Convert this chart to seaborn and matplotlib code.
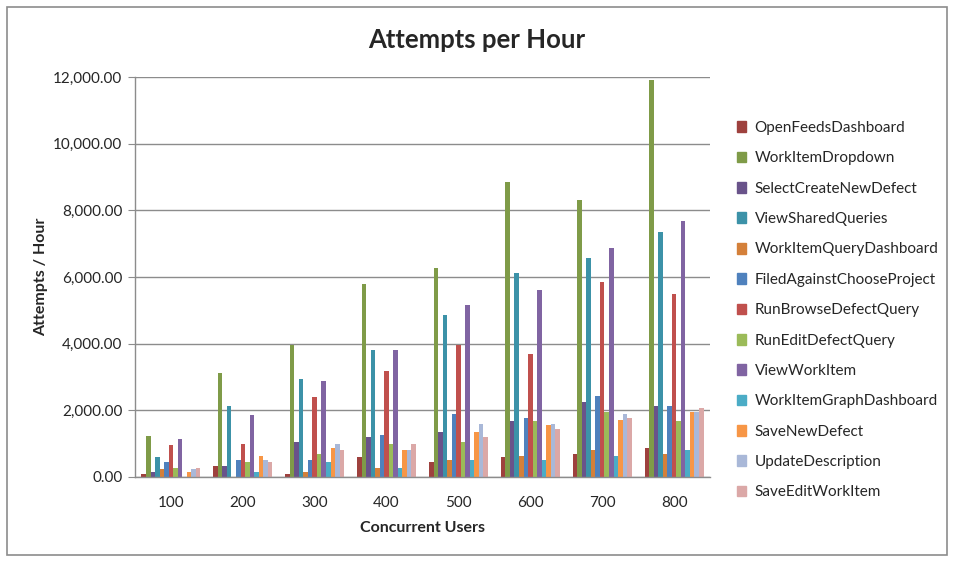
import matplotlib
matplotlib.use("Agg")
import matplotlib.pyplot as plt
import matplotlib.patches as mpatches
from matplotlib.ticker import FuncFormatter, MultipleLocator
import seaborn as sns
import pandas as pd

categories = ["100", "200", "300", "400", "500", "600", "700", "800"]
series_names = [
    "OpenFeedsDashboard", "WorkItemDropdown", "SelectCreateNewDefect",
    "ViewSharedQueries", "WorkItemQueryDashboard", "FiledAgainstChooseProject",
    "RunBrowseDefectQuery", "RunEditDefectQuery", "ViewWorkItem",
    "WorkItemGraphDashboard", "SaveNewDefect", "UpdateDescription",
    "SaveEditWorkItem",
]
open_feeds_dashboard = [80, 330, 100, 613, 462, 613, 703, 884]
work_item_dropdown = [1240, 3120, 3970, 5780, 6260, 8850, 8310, 11900]
select_create_new_defect = [150, 330, 1055, 1186, 1337, 1688, 2261, 2141]
view_shared_queries = [600, 2140, 2945, 3800, 4874, 6130, 6563, 7347]
work_item_query_dashboard = [240, 0, 150, 281, 513, 643, 824, 703]
filed_against_choose_project = [460, 520, 512, 1256, 1900, 1779, 2442, 2141]
run_browse_defect_query = [965, 1000, 2400, 3166, 3970, 3678, 5839, 5487]
run_edit_defect_query = [270, 450, 683, 1005, 1065, 1678, 1960, 1688]
view_work_item = [1146, 1870, 2884, 3800, 5146, 5608, 6864, 7678]
work_item_graph_dashboard = [0, 150, 452, 281, 513, 513, 643, 824]
save_new_defect = [160, 630, 874, 814, 1357, 1548, 1719, 1960]
update_description = [240, 520, 995, 814, 1598, 1598, 1889, 1960]
save_edit_work_item = [280, 460, 804, 1005, 1186, 1427, 1779, 2080]

all_values = [
    open_feeds_dashboard, work_item_dropdown, select_create_new_defect,
    view_shared_queries, work_item_query_dashboard, filed_against_choose_project,
    run_browse_defect_query, run_edit_defect_query, view_work_item,
    work_item_graph_dashboard, save_new_defect, update_description,
    save_edit_work_item,
]
colors = [
    "#9E413E", "#7F9B48", "#69538A", "#3C92A8", "#D4803A", "#4F81BD",
    "#C0504D", "#9BBB59", "#8064A2", "#4BACC6", "#F79646", "#A9B8D8",
    "#DBA8A7",
]

rows = []
for name, vals in zip(series_names, all_values):
    for c, v in zip(categories, vals):
        rows.append({"Users": c, "Series": name, "Value": v})
df = pd.DataFrame(rows)

sns.set_style("white")
plt.rcParams["font.family"] = ["Lato", "DejaVu Sans"]

W, H = 955, 563
fig = plt.figure(figsize=(W / 100, H / 100), dpi=100)
ax = fig.add_axes([135 / W, 1 - 477 / H, (710 - 135) / W, 400 / H])

sns.barplot(data=df, x="Users", y="Value", hue="Series", order=categories,
            hue_order=series_names, palette=colors, width=0.82,
            linewidth=0, ax=ax, legend=False, saturation=1)

ax.set_ylim(0, 12000)
ax.set_xlim(-0.5, len(categories) - 0.5)
ax.yaxis.set_major_locator(MultipleLocator(2000))
ax.yaxis.set_major_formatter(FuncFormatter(lambda v, p: f"{v:,.2f}"))
ax.grid(axis="y", color="#8C8C8C", linewidth=1)
ax.set_axisbelow(True)
for s in ["top", "right"]:
    ax.spines[s].set_visible(False)
for s in ["left", "bottom"]:
    ax.spines[s].set_color("#8C8C8C")
    ax.spines[s].set_linewidth(1)
ax.tick_params(axis="y", left=True, length=5, color="#8C8C8C", labelsize=11, pad=4)
ax.tick_params(axis="x", bottom=False, labelsize=11, pad=10)
ax.set_xlabel("Concurrent Users", fontsize=11.5, fontweight="bold", labelpad=8)
ax.set_ylabel("Attempts / Hour", fontsize=11.5, fontweight="bold", labelpad=4)

fig.text(477 / W, 1 - 40 / H, "Attempts per Hour", ha="center", va="center",
         fontsize=18.5, fontweight="bold")

handles = [mpatches.Patch(color=c, label=n) for c, n in zip(colors, series_names)]
fig.legend(handles=handles, loc="upper left", bbox_to_anchor=(731 / W, 1 - 115 / H),
           frameon=False, fontsize=11, labelspacing=1.07, handlelength=0.6,
           handleheight=0.7, handletextpad=0.55, borderaxespad=0)

fig.patches.append(mpatches.Rectangle((7 / W, 1 - 555 / H), 940 / W, 548 / H,
                                      transform=fig.transFigure, fill=False,
                                      edgecolor="#8C8C8C", linewidth=1.2))

fig.savefig("out.png", dpi=100)
